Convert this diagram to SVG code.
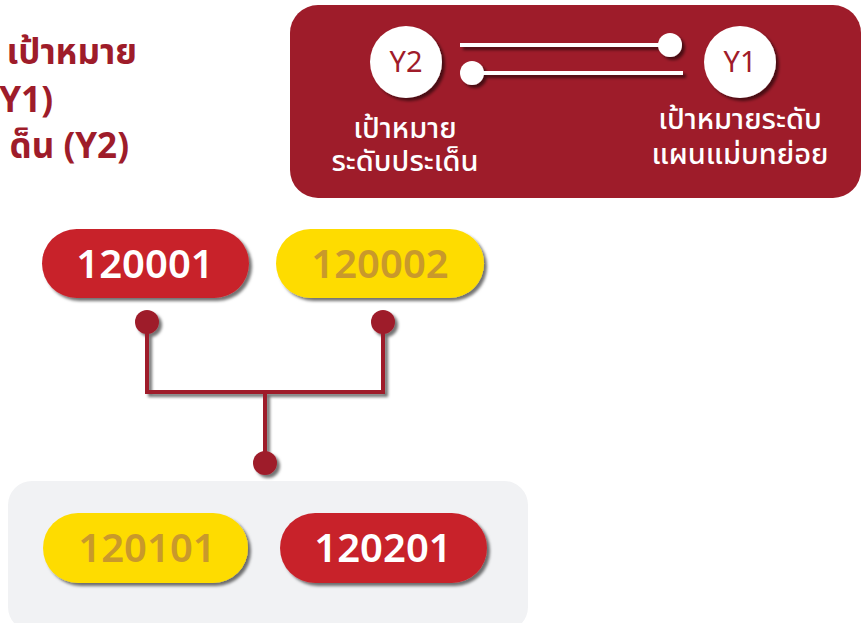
<svg xmlns="http://www.w3.org/2000/svg" width="862" height="623" viewBox="0 0 862 623">
<defs>
<style>
text{font-family:"Noto Sans Thai","Noto Sans","Liberation Sans",sans-serif}
.title{fill:#9e1c2a;font-size:35px;font-weight:700;text-anchor:end}
.lbl{fill:#ffffff;font-size:29px;font-weight:500;text-anchor:middle}
.circ{fill:#ffffff}
.ytxt{fill:#a01c2a;font-size:29px;text-anchor:middle}
.pill-red{fill:#c8242c}
.pill-yel{fill:#fedc00}
.num{font-size:40px;font-weight:600;text-anchor:middle}
.num-w{fill:#ffffff}
.num-y{fill:#c9992b}
.wire{stroke:#9e1c2a;stroke-width:4;fill:none}
.dot{fill:#9e1c2a}
.wl{stroke:#ffffff;stroke-width:4}
</style>
<filter id="sh" x="-20%" y="-20%" width="150%" height="160%">
<feDropShadow dx="3" dy="3" stdDeviation="1.5" flood-color="#000" flood-opacity="0.55"/>
</filter>
</defs>
<rect width="862" height="623" fill="#ffffff"/>

<g id="title">
<text class="title" x="137" y="64">เป้าหมาย</text>
<text class="title" x="53" y="112">Y1)</text>
<text class="title" x="129" y="158">ด็น (Y2)</text>
</g>

<g id="legend">
<rect x="290" y="5" width="571" height="193" rx="28" fill="#9e1c2a"/>
<g filter="url(#sh)">
<line class="wl" x1="460" y1="45" x2="670" y2="45"/>
<circle class="circ" cx="670" cy="45" r="12"/>
<line class="wl" x1="472" y1="73" x2="683" y2="73"/>
<circle class="circ" cx="472" cy="73" r="12"/>
</g>
</g>

<g id="y2">
<circle class="circ" cx="406" cy="62" r="36" filter="url(#sh)"/>
<text class="ytxt" x="406" y="72">Y2</text>
<text class="lbl" x="405" y="138">เป้าหมาย</text>
<text class="lbl" x="405" y="171">ระดับประเด็น</text>
</g>

<g id="y1">
<circle class="circ" cx="740" cy="62" r="36" filter="url(#sh)"/>
<text class="ytxt" x="740" y="72">Y1</text>
<text class="lbl" x="740" y="129">เป้าหมายระดับ</text>
<text class="lbl" x="740" y="164">แผนแม่บทย่อย</text>
</g>

<g id="connectors">
<g filter="url(#sh)">
<polyline class="wire" points="147,322 147,392 383,392 383,322"/>
<line class="wire" x1="265" y1="392" x2="265" y2="463"/>
<circle class="dot" cx="147" cy="322" r="12"/>
<circle class="dot" cx="383" cy="322" r="12"/>
<circle class="dot" cx="265" cy="463" r="12"/>
</g>
</g>

<g id="n120001">
<rect class="pill-red" x="42" y="229" width="207" height="69" rx="34.5" filter="url(#sh)"/>
<text class="num num-w" x="145" y="278">120001</text>
</g>
<g id="n120002">
<rect class="pill-yel" x="276" y="229" width="208" height="69" rx="34.5" filter="url(#sh)"/>
<text class="num num-y" x="380" y="278">120002</text>
</g>

<g id="group-panel">
<rect x="8" y="481" width="520" height="150" rx="24" fill="#f1f2f4"/>
</g>
<g id="n120101">
<rect class="pill-yel" x="43" y="513" width="205" height="70" rx="35" filter="url(#sh)"/>
<text class="num num-y" x="147" y="562">120101</text>
</g>
<g id="n120201">
<rect class="pill-red" x="280" y="513" width="207" height="70" rx="35" filter="url(#sh)"/>
<text class="num num-w" x="383" y="562">120201</text>
</g>
</svg>
